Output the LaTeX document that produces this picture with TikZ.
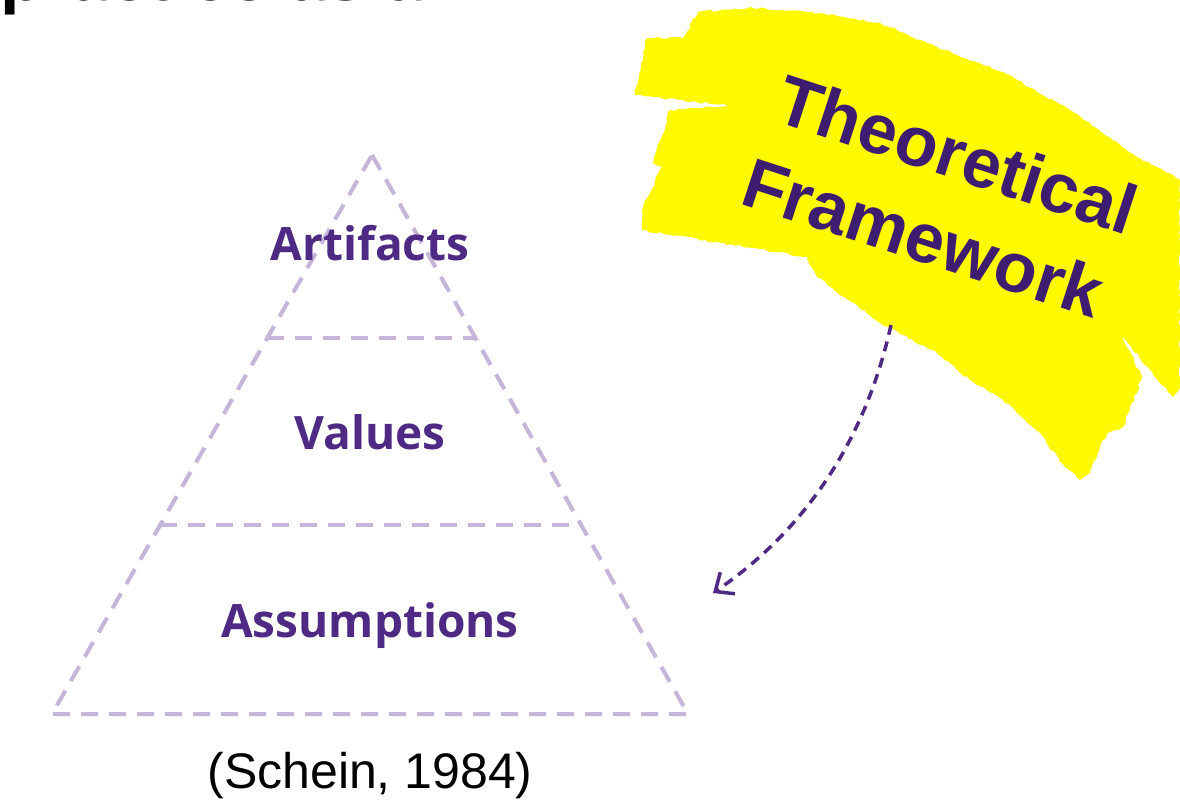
\documentclass[tikz,border=0pt]{standalone}
\usepackage{fontspec}
\setmainfont{Liberation Sans}
\newfontfamily\layerfont{Open Sans}
\usetikzlibrary{arrows.meta,calc,decorations.pathmorphing}

\definecolor{nupurple}{RGB}{78,42,132}
\definecolor{deeppurple}{RGB}{62,28,112}
\definecolor{lavender}{RGB}{197,181,217}
\definecolor{marker}{RGB}{255,250,0}

\begin{document}
\begin{tikzpicture}[x=1pt, y=-1pt,
    layer/.style={font=\layerfont\bfseries\fontsize{46}{50}\selectfont, text=nupurple, inner sep=0pt, anchor=base},
    tier/.style={draw=lavender, line width=4pt, dash pattern=on 17pt off 11pt},
    headline/.style={font=\bfseries\fontsize{70}{80}\selectfont, text=deeppurple, inner sep=0pt, anchor=base west, rotate=-18},
    pointer/.style={draw=nupurple, line width=3.5pt, dash pattern=on 10pt off 7pt, -{Straight Barb[length=15pt,width=26pt]}},
    rough/.style={decorate, decoration={random steps, segment length=4pt, amplitude=1.2pt}}
]
    \useasboundingbox (0,0) rectangle (1180,803);
    \fill[white] (0,0) rectangle (1180,803);
    \clip (0,0) rectangle (1180,803);

    % heading running off the top
    \node[font=\bfseries\fontsize{70}{80}\selectfont, inner sep=0pt, anchor=base west] (heading) at (0,0.5) {practice as a...};

    % highlighter stroke
    \fill[marker, rough]
        (698,12) -- (753,8) -- (820,13) -- (880,23) -- (937,47) -- (1003,72) -- (1070,110)
        -- (1137,157) -- (1180,180) -- (1180,388) -- (1173,397) -- (1150,370) -- (1123,337)
        -- (1142,377) -- (1130,410) -- (1123,427) -- (1110,432) -- (1103,440) -- (1090,473)
        -- (1080,480) -- (1060,462) -- (1043,437) -- (1003,400) -- (970,380) -- (937,353)
        -- (880,323) -- (817,277) -- (812,268) -- (807,257) -- (642,230) -- (643,207)
        -- (662,167) -- (653,163) -- (670,110) -- (733,106) -- (635,95) -- (647,38)
        -- (683,38) -- cycle;

    \node[headline] (theory) at (772,120) {Theoretical};
    \node[headline] (framework) at (738,203) {Framework};

    % culture pyramid
    \coordinate (apex) at (372,155);
    \coordinate (baseL) at (52,714);
    \coordinate (baseR) at (688,714);
    \draw[tier] (apex) -- (baseR) -- (baseL) -- cycle;
    \draw[tier] ($(apex)!0.327!(baseL)$) -- ($(apex)!0.327!(baseR)$);
    \draw[tier] ($(apex)!0.662!(baseL)$) -- ($(apex)!0.662!(baseR)$);

    \node[layer] (artifacts) at (370,260) {Artifacts};
    \node[layer] (values) at (370,449) {Values};
    \node[layer] (assumptions) at (370,637) {Assumptions};
    \node[font=\fontsize{50}{60}\selectfont, inner sep=0pt, anchor=base] (source) at (370,788) {(Schein, 1984)};

    % link from the framework down to the pyramid
    \coordinate (from) at (891,325);
    \coordinate (to) at (713,593);
    \draw[pointer] (from) .. controls (870,420) and (820,520) .. (to);
\end{tikzpicture}
\end{document}
